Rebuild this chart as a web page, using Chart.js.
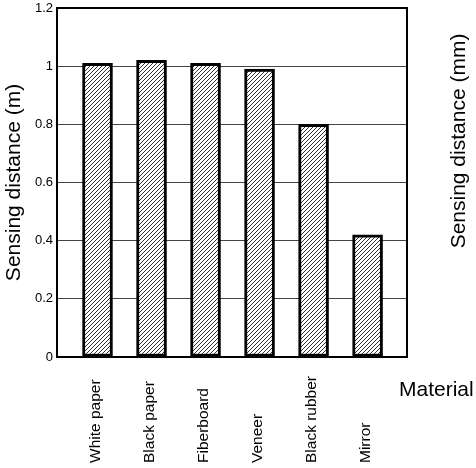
<!DOCTYPE html>
<html>
<head>
<meta charset="utf-8">
<title>Sensing distance by material</title>
<script src="https://cdn.jsdelivr.net/npm/chart.js@4/dist/chart.umd.min.js"></script>
<style>
  html, body { margin: 0; padding: 0; background: #fff; }
  #wrap { width: 476px; height: 468px; }
</style>
</head>
<body>
<div id="wrap"><canvas id="chart" width="476" height="468"></canvas></div>
<script>
/* ============================================================
   Sensing distance per material  –  hatched bar chart
   ============================================================ */

const materials = ['White paper', 'Black paper', 'Fiberboard', 'Veneer', 'Black rubber', 'Mirror'];
const distances = [1.01, 1.02, 1.01, 0.99, 0.80, 0.42];
const yTicks = [0, 0.2, 0.4, 0.6, 0.8, 1, 1.2];

const FONT = '"Liberation Sans", Arial, Helvetica, sans-serif';

// diagonal "/" hatch used to fill the bars
function hatchPattern() {
  const c = document.createElement('canvas');
  c.width = 4; c.height = 4;
  const g = c.getContext('2d');
  g.fillStyle = '#fff';
  g.fillRect(0, 0, 4, 4);
  g.strokeStyle = '#333';
  g.lineWidth = 1;
  g.beginPath();
  g.moveTo(-1, 5); g.lineTo(5, -1);
  g.moveTo(-1, 1); g.lineTo(1, -1);
  g.moveTo(3, 5); g.lineTo(5, 3);
  g.stroke();
  return g.createPattern(c, 'repeat');
}

// frame round the plot, category labels (bottom-aligned, reading upward)
// and the two loose titles on the right
const extras = {
  id: 'extras',
  afterDraw(chart) {
    const { ctx, chartArea: a } = chart;
    const xs = chart.scales.x;
    ctx.save();
    ctx.strokeStyle = '#000';
    ctx.lineWidth = 2;
    ctx.strokeRect(a.left, a.top, a.right - a.left, a.bottom - a.top);

    ctx.fillStyle = '#000';
    ctx.textBaseline = 'middle';
    ctx.textAlign = 'left';
    ctx.font = '15.5px ' + FONT;
    materials.forEach((m, i) => {
      ctx.save();
      ctx.translate(xs.getPixelForValue(i + 1) - 2, 463);
      ctx.rotate(-Math.PI / 2);
      ctx.fillText(m, 0, 0);
      ctx.restore();
    });

    ctx.font = '21px ' + FONT;
    ctx.fillText('Material', 399, 390);

    ctx.translate(459, 141);
    ctx.rotate(-Math.PI / 2);
    ctx.textAlign = 'center';
    ctx.fillText('Sensing distance (mm)', 0, 0);
    ctx.restore();
  }
};

new Chart(document.getElementById('chart'), {
  type: 'bar',
  data: {
    datasets: [{
      data: materials.map((m, i) => ({ x: i + 1, y: distances[i] })),
      backgroundColor: hatchPattern(),
      borderColor: '#000',
      borderWidth: 3,
      borderSkipped: false,
      barThickness: 30
    }]
  },
  options: {
    responsive: false,
    animation: false,
    layout: { padding: { top: 8, right: 69, left: 0, bottom: 0 } },
    plugins: { legend: { display: false }, tooltip: { enabled: false } },
    scales: {
      x: {
        type: 'linear',
        min: 0.25,
        max: 6.73,
        offset: false,
        grid: { display: false, drawTicks: false },
        border: { display: false },
        afterBuildTicks: s => { s.ticks = materials.map((m, i) => ({ value: i + 1 })); },
        afterFit: s => { s.height = 111; s.paddingLeft = 0; s.paddingRight = 0; },
        ticks: { display: false }
      },
      y: {
        min: 0,
        max: 1.2,
        grid: {
          color: ctx => (ctx.tick && (ctx.tick.value === 0 || ctx.tick.value === 1.2)) ? 'rgba(0,0,0,0)' : '#444',
          lineWidth: 1,
          drawTicks: false
        },
        border: { display: false },
        afterBuildTicks: s => { s.ticks = yTicks.map(v => ({ value: v })); },
        afterFit: s => { s.width = 57; s.paddingTop = 0; s.paddingBottom = 0; },
        ticks: {
          padding: 4,
          color: '#000',
          font: { family: FONT, size: 13 },
          callback: v => String(v)
        },
        title: {
          display: true,
          text: 'Sensing distance (m)',
          color: '#000',
          font: { family: FONT, size: 21 },
          padding: { top: 2, bottom: 0 }
        }
      }
    }
  },
  plugins: [extras]
});
</script>
</body>
</html>
